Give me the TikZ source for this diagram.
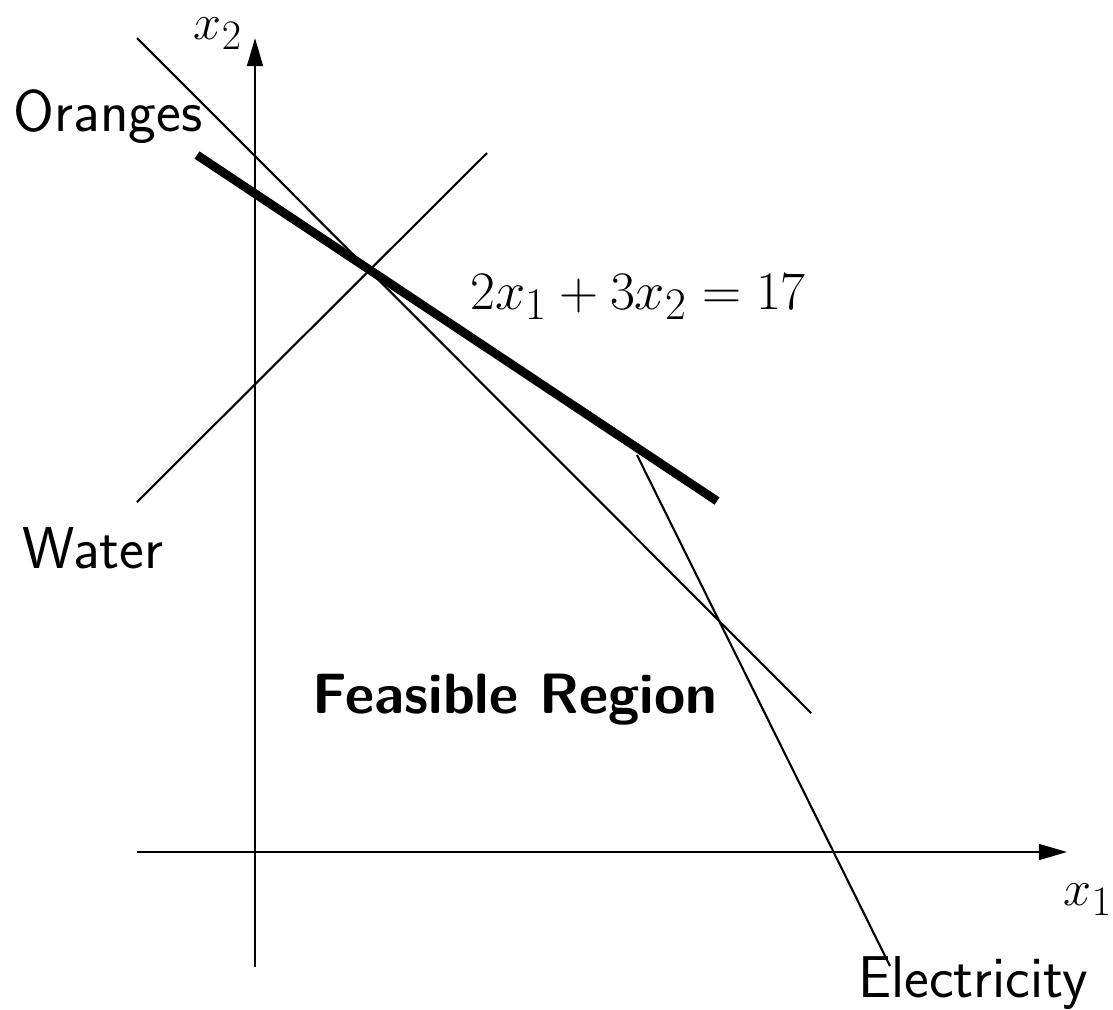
\documentclass[tikz,border=0pt]{standalone}
\usepackage{tikz}
\usetikzlibrary{arrows.meta}
\begin{document}
\begin{tikzpicture}[x=0.02cm,y=-0.02cm,
  thinline/.style={line width=1.2pt},
  axisline/.style={line width=1.2pt,-{Triangle[length=16pt,width=9pt]}},
  thickline/.style={line width=5pt},
  lab/.style={font=\Huge\sffamily, scale=1.35, inner sep=0pt},
  blab/.style={font=\Huge\sffamily\bfseries, scale=1.3, inner sep=0pt},
  mlab/.style={font=\Huge, scale=1.24, inner sep=0pt},
  alab/.style={font=\Huge, scale=1.15, inner sep=0pt}]
\useasboundingbox (0,0) rectangle (1113,1009);
% coordinates
\coordinate (yb) at (255,967);
\coordinate (yt) at (255,38);
\coordinate (xl) at (137,852);
\coordinate (xr) at (1067,852);
\coordinate (o1) at (137,38);
\coordinate (o2) at (811,713);
\coordinate (w1) at (137,502);
\coordinate (w2) at (487,153);
\coordinate (e1) at (637,455);
\coordinate (e2) at (890,966);
\coordinate (t1) at (197,155);
\coordinate (t2) at (717,501);
% axes
\draw[axisline] (yb) -- (yt);
\draw[axisline] (xl) -- (xr);
% constraint lines
\draw[thinline] (o1) -- (o2);
\draw[thinline] (w1) -- (w2);
\draw[thinline] (e1) -- (e2);
\draw[thickline] (t1) -- (t2);
% labels
\node[alab] (x2) at (218,34) {$x_2$};
\node[alab] (x1) at (1088,900) {$x_1$};
\node[lab] (or) at (108,117) {Oranges};
\node[lab] (wa) at (93,548) {Water};
\node[lab] (el) at (973,983) {Electricity};
\node[blab] (fr) at (515,700) {Feasible Region};
\node[mlab] (eq) at (638,297) {$2x_1+3x_2=17$};
\end{tikzpicture}
\end{document}
